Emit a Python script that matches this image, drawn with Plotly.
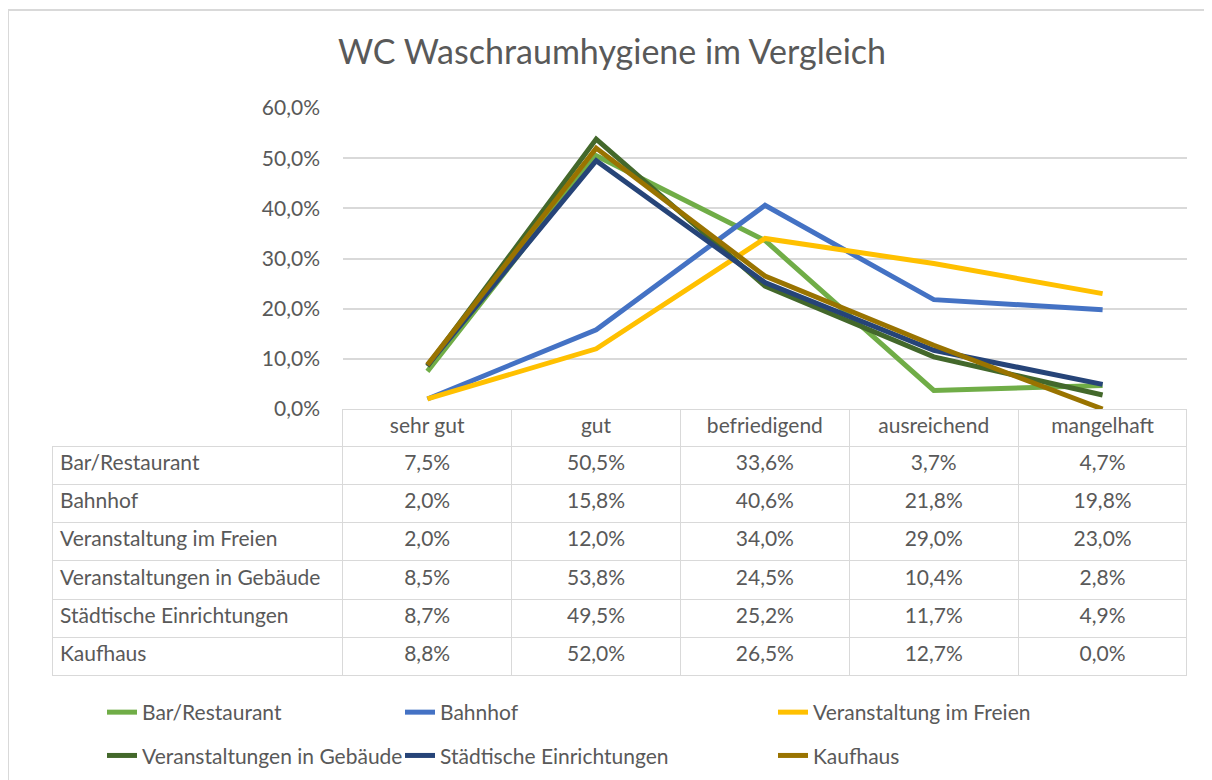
import plotly.graph_objects as go

# Data
categories = ["sehr gut", "gut", "befriedigend", "ausreichend", "mangelhaft"]
series_names = [
    "Bar/Restaurant",
    "Bahnhof",
    "Veranstaltung im Freien",
    "Veranstaltungen in Gebäude",
    "Städtische Einrichtungen",
    "Kaufhaus",
]
bar_restaurant = [7.5, 50.5, 33.6, 3.7, 4.7]
bahnhof = [2.0, 15.8, 40.6, 21.8, 19.8]
veranstaltung_freien = [2.0, 12.0, 34.0, 29.0, 23.0]
veranstaltungen_gebaeude = [8.5, 53.8, 24.5, 10.4, 2.8]
staedtische = [8.7, 49.5, 25.2, 11.7, 4.9]
kaufhaus = [8.8, 52.0, 26.5, 12.7, 0.0]

series_values = [bar_restaurant, bahnhof, veranstaltung_freien,
                 veranstaltungen_gebaeude, staedtische, kaufhaus]
colors = ["#70AD47", "#4472C4", "#FFC000", "#43682B", "#264478", "#997300"]
legend_ids = ["legend", "legend2", "legend3", "legend", "legend2", "legend3"]

# figure is a bit taller than the window so the legends never push the margins
W, H = 1212, 840
OFF = 8  # page body margin
FONT = "Lato, 'Open Sans', sans-serif"
TXT = "#595959"
GRID = "#D9D9D9"


def px_x(x):
    return (x - OFF) / W


def px_y(y):
    return 1 - (y - OFF) / H


fig = go.Figure()

# Lines
for name, vals, col, lg in zip(series_names, series_values, colors, legend_ids):
    fig.add_trace(go.Scatter(
        x=categories,
        y=[v / 100 for v in vals],
        mode="lines",
        name=name,
        legend=lg,
        legendgroup=name,
        line=dict(color=col, width=5),
        hoverinfo="skip",
    ))

# Data table below the plot
def fmt(v):
    return f"{v:.1f}%".replace(".", ",")

cell_cols = [series_names] + [[fmt(s[i]) for s in series_values] for i in range(len(categories))]
ncat = len(categories)
fig.add_trace(go.Table(
    domain=dict(x=[px_x(52), px_x(1187)], y=[px_y(678), px_y(409)]),
    columnwidth=[291] + [169] * ncat,
    header=dict(
        values=[""] + categories,
        align="center",
        height=37,
        fill_color=["rgba(0,0,0,0)"] + ["white"] * ncat,
        line=dict(color=["rgba(0,0,0,0)"] + [GRID] * ncat, width=1),
        font=dict(family=FONT, size=21, color=TXT),
    ),
    cells=dict(
        values=cell_cols,
        align=["left"] + ["center"] * ncat,
        height=38.3,
        fill_color="white",
        line=dict(color=GRID, width=1),
        font=dict(family=FONT, size=21, color=TXT),
    ),
))

legend_style = dict(
    orientation="v",
    font=dict(family=FONT, size=21, color=TXT),
    bgcolor="rgba(0,0,0,0)",
    tracegroupgap=13,
    xanchor="left",
    yanchor="top",
    y=px_y(692),
)

fig.update_layout(
    width=W,
    height=H,
    margin=dict(l=0, r=0, t=0, b=0),
    paper_bgcolor="white",
    plot_bgcolor="white",
    separators=",.",
    title=dict(
        text="WC Waschraumhygiene im Vergleich",
        x=px_x(612),
        xanchor="center",
        y=px_y(52),
        yanchor="middle",
        font=dict(family=FONT, size=34, color=TXT),
    ),
    xaxis=dict(
        domain=[px_x(343), px_x(1187)],
        range=[-0.5, 4.5],
        showticklabels=False,
        showgrid=False,
        zeroline=False,
        showline=False,
        automargin=False,
    ),
    yaxis=dict(
        domain=[px_y(409), px_y(108)],
        range=[0, 0.6],
        dtick=0.1,
        tickformat=".1%",
        showgrid=True,
        gridcolor=GRID,
        gridwidth=1.5,
        zeroline=False,
        ticks="",
        ticklabelstandoff=22,
        automargin=False,
        tickfont=dict(family=FONT, size=21, color=TXT),
    ),
    legend=dict(legend_style, x=px_x(102)),
    legend2=dict(legend_style, x=px_x(400)),
    legend3=dict(legend_style, x=px_x(773)),
    shapes=[dict(
        type="rect", xref="paper", yref="paper",
        x0=px_x(8), x1=1.05, y0=-0.05, y1=px_y(10),
        line=dict(color=GRID, width=2), fillcolor="rgba(0,0,0,0)", layer="below",
    )],
)

fig.write_html("out.html")
